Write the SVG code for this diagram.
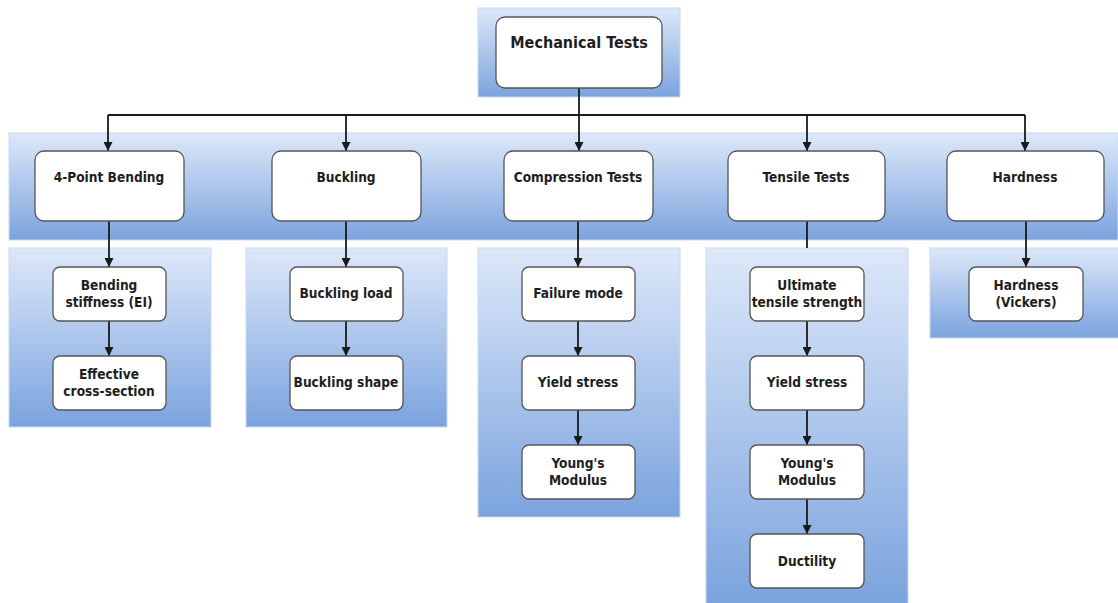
<svg xmlns="http://www.w3.org/2000/svg" width="1118" height="603" viewBox="0 0 1118 603">
  <defs>
    <linearGradient id="panelFill" x1="0" y1="0" x2="0" y2="1">
      <stop offset="0" stop-color="#dde8f9"/>
      <stop offset="1" stop-color="#7ba3de"/>
    </linearGradient>
    <marker id="arrow" viewBox="0 0 10 10" refX="10" refY="5" markerWidth="9" markerHeight="9" markerUnits="userSpaceOnUse" orient="auto">
      <path d="M0,0 L10,5 L0,10 z" fill="#1a1a1a"/>
    </marker>
  </defs>
  <style>
    .panel { fill: url(#panelFill); stroke: #c9d9f0; stroke-width: 1; }
    .box { fill: #ffffff; stroke: #555555; stroke-width: 1.3; }
    .lbl { font-family: "DejaVu Sans Condensed", "DejaVu Sans", Verdana, sans-serif; font-stretch: condensed; font-weight: bold; font-size: 13.6px; fill: #1e1e1e; text-anchor: middle; }
    .big { font-size: 16px; }
    .wire { fill: none; stroke: #1a1a1a; stroke-width: 1.8; }
  </style>

  <rect width="1118" height="603" fill="#ffffff"/>

  <!-- background bands -->
  <g id="panels">
    <rect class="panel" x="478" y="8" width="202" height="89"/>
    <rect class="panel" x="9" y="133" width="1109" height="107"/>
    <rect class="panel" x="9" y="248" width="202" height="179"/>
    <rect class="panel" x="246" y="248" width="201" height="179"/>
    <rect class="panel" x="478" y="248" width="202" height="269"/>
    <rect class="panel" x="706" y="248" width="202" height="356"/>
    <rect class="panel" x="930" y="248" width="189" height="90"/>
  </g>

  <!-- connectors -->
  <g id="connectors">
    <path class="wire" d="M579,88 V115 M108,115 H1025"/>
    <path class="wire" marker-end="url(#arrow)" d="M108,115 V151"/>
    <path class="wire" marker-end="url(#arrow)" d="M346,115 V151"/>
    <path class="wire" marker-end="url(#arrow)" d="M579,115 V151"/>
    <path class="wire" marker-end="url(#arrow)" d="M807,115 V151"/>
    <path class="wire" marker-end="url(#arrow)" d="M1025,115 V151"/>

    <path class="wire" marker-end="url(#arrow)" d="M109,221 V267"/>
    <path class="wire" marker-end="url(#arrow)" d="M109,321 V356"/>

    <path class="wire" marker-end="url(#arrow)" d="M346,221 V267"/>
    <path class="wire" marker-end="url(#arrow)" d="M346,321 V356"/>

    <path class="wire" marker-end="url(#arrow)" d="M578,221 V267"/>
    <path class="wire" marker-end="url(#arrow)" d="M578,321 V356"/>
    <path class="wire" marker-end="url(#arrow)" d="M578,410 V445"/>

    <path class="wire" d="M807,221 V248"/>
    <path class="wire" marker-end="url(#arrow)" d="M807,321 V356"/>
    <path class="wire" marker-end="url(#arrow)" d="M807,410 V445"/>
    <path class="wire" marker-end="url(#arrow)" d="M807,499 V534"/>

    <path class="wire" marker-end="url(#arrow)" d="M1026,221 V267"/>
  </g>

  <!-- root -->
  <g id="mechanical-tests">
    <rect class="box" x="496" y="17" width="166" height="71" rx="9"/>
    <text class="lbl big" x="579" y="48">Mechanical Tests</text>
  </g>

  <!-- first level -->
  <g id="four-point-bending">
    <rect class="box" x="35" y="151" width="149" height="70" rx="9"/>
    <text class="lbl" x="109" y="182">4-Point Bending</text>
  </g>
  <g id="buckling">
    <rect class="box" x="272" y="151" width="149" height="70" rx="9"/>
    <text class="lbl" x="346" y="182">Buckling</text>
  </g>
  <g id="compression-tests">
    <rect class="box" x="504" y="151" width="149" height="70" rx="9"/>
    <text class="lbl" x="578" y="182">Compression Tests</text>
  </g>
  <g id="tensile-tests">
    <rect class="box" x="728" y="151" width="157" height="70" rx="9"/>
    <text class="lbl" x="806" y="182">Tensile Tests</text>
  </g>
  <g id="hardness">
    <rect class="box" x="947" y="151" width="157" height="70" rx="9"/>
    <text class="lbl" x="1025" y="182">Hardness</text>
  </g>

  <!-- 4-point bending results -->
  <g id="bending-stiffness">
    <rect class="box" x="53" y="267" width="113" height="54" rx="7"/>
    <text class="lbl" x="109" y="290">Bending</text>
    <text class="lbl" x="109" y="307">stiffness (EI)</text>
  </g>
  <g id="effective-cross-section">
    <rect class="box" x="53" y="356" width="113" height="54" rx="7"/>
    <text class="lbl" x="109" y="379">Effective</text>
    <text class="lbl" x="109" y="396">cross-section</text>
  </g>

  <!-- buckling results -->
  <g id="buckling-load">
    <rect class="box" x="290" y="267" width="113" height="54" rx="7"/>
    <text class="lbl" x="346" y="298">Buckling load</text>
  </g>
  <g id="buckling-shape">
    <rect class="box" x="290" y="356" width="113" height="54" rx="7"/>
    <text class="lbl" x="346" y="387">Buckling shape</text>
  </g>

  <!-- compression results -->
  <g id="failure-mode">
    <rect class="box" x="522" y="267" width="113" height="54" rx="7"/>
    <text class="lbl" x="578" y="298">Failure mode</text>
  </g>
  <g id="compression-yield-stress">
    <rect class="box" x="522" y="356" width="113" height="54" rx="7"/>
    <text class="lbl" x="578" y="387">Yield stress</text>
  </g>
  <g id="compression-youngs-modulus">
    <rect class="box" x="522" y="445" width="113" height="54" rx="7"/>
    <text class="lbl" x="578" y="468">Young's</text>
    <text class="lbl" x="578" y="485">Modulus</text>
  </g>

  <!-- tensile results -->
  <g id="ultimate-tensile-strength">
    <rect class="box" x="750" y="267" width="114" height="54" rx="7"/>
    <text class="lbl" x="807" y="290">Ultimate</text>
    <text class="lbl" x="807" y="307">tensile strength</text>
  </g>
  <g id="tensile-yield-stress">
    <rect class="box" x="750" y="356" width="114" height="54" rx="7"/>
    <text class="lbl" x="807" y="387">Yield stress</text>
  </g>
  <g id="tensile-youngs-modulus">
    <rect class="box" x="750" y="445" width="114" height="54" rx="7"/>
    <text class="lbl" x="807" y="468">Young's</text>
    <text class="lbl" x="807" y="485">Modulus</text>
  </g>
  <g id="ductility">
    <rect class="box" x="750" y="534" width="114" height="54" rx="7"/>
    <text class="lbl" x="807" y="566">Ductility</text>
  </g>

  <!-- hardness result -->
  <g id="hardness-vickers">
    <rect class="box" x="969" y="267" width="114" height="54" rx="7"/>
    <text class="lbl" x="1026" y="290">Hardness</text>
    <text class="lbl" x="1026" y="307">(Vickers)</text>
  </g>
</svg>
